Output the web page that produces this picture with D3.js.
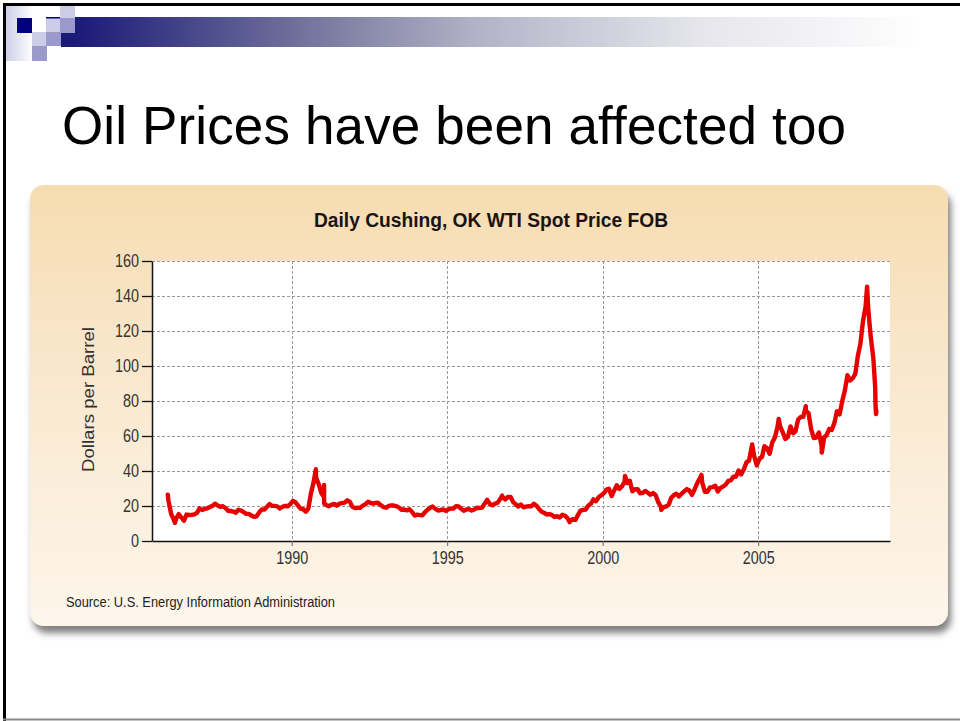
<!DOCTYPE html>
<html>
<head>
<meta charset="utf-8">
<script src="https://cdn.jsdelivr.net/npm/d3@7"></script>
<style>
  body { margin: 0; background: #fff; }
  svg { display: block; }
</style>
</head>
<body>
<svg id="slide"></svg>
<script>
// Slide size
const W = 960, H = 721;

const firstMonth = [1986, 0];
const monthlyPrices = [
  22.93, 15.46, 12.61, 12.84, 15.38, 13.43, 11.59, 15.10, 14.87, 14.90, 15.22, 16.11,
  18.65, 17.75, 18.30, 18.68, 19.44, 20.07, 21.34, 20.31, 19.53, 19.86, 18.85, 17.28,
  17.13, 16.80, 16.20, 17.86, 17.42, 16.53, 15.50, 15.52, 14.54, 13.77, 14.14, 16.38,
  18.02, 17.94, 19.48, 21.07, 20.12, 20.05, 19.78, 18.58, 19.59, 20.10, 19.86, 21.10,
  22.86, 22.11, 20.39, 18.43, 18.20, 16.70, 18.45, 27.31, 33.51, 36.04, 32.33, 27.28,
  25.23, 20.48, 19.90, 20.83, 21.23, 20.19, 21.40, 21.69, 21.89, 23.23, 22.46, 19.50,
  18.79, 19.01, 18.92, 20.23, 20.98, 22.39, 21.78, 21.34, 21.88, 21.69, 20.34, 19.41,
  19.03, 20.09, 20.32, 20.25, 19.95, 19.09, 17.89, 18.01, 17.50, 18.15, 16.61, 14.52,
  15.03, 14.78, 14.68, 16.42, 17.89, 19.06, 19.66, 18.38, 17.45, 17.72, 18.07, 17.16,
  18.04, 18.57, 18.54, 19.90, 19.74, 18.45, 17.33, 18.02, 18.23, 17.43, 17.99, 19.03,
  18.86, 19.09, 21.33, 23.50, 21.17, 20.42, 21.30, 21.90, 23.97, 24.88, 23.71, 25.23,
  25.13, 22.18, 20.97, 19.70, 20.82, 19.26, 19.66, 19.95, 19.80, 21.33, 20.19, 18.33,
  16.72, 16.06, 15.12, 15.35, 14.91, 13.72, 14.17, 13.47, 15.03, 14.46, 13.00, 11.35,
  12.52, 12.01, 14.68, 17.31, 17.72, 17.92, 20.10, 21.28, 23.80, 22.69, 25.00, 26.10,
  27.26, 29.37, 29.84, 25.72, 28.79, 31.82, 29.70, 31.26, 33.88, 33.11, 34.42, 28.44,
  29.59, 29.61, 27.25, 27.49, 28.63, 27.60, 26.43, 27.37, 26.20, 22.17, 19.64, 19.39,
  19.72, 20.72, 24.53, 26.18, 27.04, 25.52, 26.97, 28.39, 29.66, 28.84, 26.35, 29.46,
  32.95, 35.83, 33.51, 28.17, 28.11, 30.66, 30.76, 31.57, 28.31, 30.34, 31.11, 32.13,
  34.31, 34.69, 36.74, 36.75, 40.28, 38.03, 40.78, 44.90, 45.94, 53.28, 48.47, 43.15,
  46.84, 48.15, 54.19, 52.98, 49.83, 56.35, 59.00, 64.99, 65.59, 62.26, 58.32, 59.41,
  65.49, 61.63, 62.69, 69.44, 70.84, 70.95, 74.41, 73.04, 63.80, 58.89, 59.08, 61.96,
  54.51, 59.28, 60.44, 63.98, 63.46, 67.49, 74.12, 72.36, 79.92, 85.80, 94.77, 91.69,
  92.97, 95.39, 105.45, 112.58, 125.40, 133.88, 133.37, 116.67, 104.11
];

// Daily extremes visible in the chart (spikes and the tail end)
const spikeDates = [
  "1986-01-06", "1986-03-31", "1990-10-11", "1991-01-16", "1991-01-17",
  "1996-10-08", "1998-12-10", "2000-09-20", "2001-11-20", "2003-03-07",
  "2004-10-22", "2005-08-30", "2006-07-14", "2007-01-18", "2008-07-03",
  "2008-10-06", "2008-10-10", "2008-10-16", "2008-10-20"
];
const spikeValues = [
  26.5, 10.4, 41.0, 32.0, 21.4,
  25.9, 10.8, 37.2, 17.8, 37.8,
  55.2, 69.8, 77.0, 50.5, 145.3,
  87.8, 77.7, 72.5, 74.3
];

// Axis ticks
const yTicks = [0, 20, 40, 60, 80, 100, 120, 140, 160];
const xTickYears = [1990, 1995, 2000, 2005];

// Text
const slideTitle = "Oil Prices have been affected too";
const chartTitle = "Daily Cushing, OK WTI Spot Price FOB";
const yLabel = "Dollars per Barrel";
const sourceText = "Source: U.S. Energy Information Administration";

// Build the series
const parseDay = d3.timeParse("%Y-%m-%d");
let series = monthlyPrices.map((v, i) => ({
  date: new Date(firstMonth[0], firstMonth[1] + i, 15),
  value: v
}));
spikeDates.forEach((s, i) => series.push({ date: parseDay(s), value: spikeValues[i] }));
series.sort((a, b) => a.date - b.date);

const svg = d3.select("#slide")
  .attr("width", W)
  .attr("height", H);

const defs = svg.append("defs");

// Header bar gradient
const barGrad = defs.append("linearGradient").attr("id", "barGrad");
[["0%", "#1a1a78"], ["28%", "#7a7aa0"], ["46%", "#b4b4c9"], ["71%", "#e6e6ec"], ["96%", "#ffffff"]]
  .forEach(s => barGrad.append("stop").attr("offset", s[0]).attr("stop-color", s[1]));

const lavGrad = defs.append("linearGradient").attr("id", "lavGrad");
lavGrad.append("stop").attr("offset", "0%").attr("stop-color", "#ccccE6");
lavGrad.append("stop").attr("offset", "100%").attr("stop-color", "#ffffff");

// Panel gradient
const panelGrad = defs.append("linearGradient").attr("id", "panelGrad")
  .attr("x1", 0).attr("y1", 0).attr("x2", 0).attr("y2", 1);
[["0%", "#f6dcb0"], ["40%", "#f9e7cc"], ["100%", "#fdf6eb"]]
  .forEach(s => panelGrad.append("stop").attr("offset", s[0]).attr("stop-color", s[1]));

const shadow = defs.append("filter").attr("id", "shadow")
  .attr("x", "-5%").attr("y", "-5%").attr("width", "115%").attr("height", "120%");
shadow.append("feDropShadow")
  .attr("dx", 3).attr("dy", 7).attr("stdDeviation", 3.5)
  .attr("flood-color", "#555").attr("flood-opacity", 0.75);

// Slide decoration (top left squares and header bar)
svg.append("rect").attr("x", 5).attr("y", 5).attr("width", 28).attr("height", 56).attr("fill", "url(#lavGrad)");
svg.append("rect").attr("x", 75).attr("y", 17).attr("width", W - 75).attr("height", 30).attr("fill", "url(#barGrad)");
const squares = [
  [17, 18, 15, 15, "#000080"],
  [46, 18, 14, 15, "#ccccE6"],
  [60, 18, 15, 15, "#9999cc"],
  [60, 5, 15, 13, "#ccccE6"],
  [46, 17, 14, 1.5, "#000080"],
  [32, 32, 14, 14, "#ccccE6"],
  [46, 32, 15, 14, "#9999cc"],
  [61, 33, 14, 14, "#1a1a78"],
  [32, 46, 15, 15, "#9999cc"]
];
svg.selectAll("rect.sq").data(squares).enter().append("rect")
  .attr("class", "sq")
  .attr("x", d => d[0]).attr("y", d => d[1])
  .attr("width", d => d[2]).attr("height", d => d[3])
  .attr("fill", d => d[4]);

// Slide border
svg.append("line").attr("x1", 3).attr("x2", W).attr("y1", 4.5).attr("y2", 4.5)
  .attr("stroke", "#000").attr("stroke-width", 3);
svg.append("line").attr("x1", 4.5).attr("x2", 4.5).attr("y1", 3).attr("y2", H)
  .attr("stroke", "#000").attr("stroke-width", 3);
svg.append("line").attr("x1", 3).attr("x2", W).attr("y1", 719.5).attr("y2", 719.5)
  .attr("stroke", "#888").attr("stroke-width", 2);

// Slide title
svg.append("text")
  .attr("x", 62).attr("y", 144)
  .attr("font-family", "'Liberation Sans', Arial, sans-serif")
  .attr("font-size", 53)
  .attr("textLength", 784)
  .attr("fill", "#000")
  .text(slideTitle);

// Chart panel
svg.append("rect")
  .attr("x", 30).attr("y", 185).attr("width", 918).attr("height", 441).attr("rx", 14)
  .attr("fill", "url(#panelGrad)")
  .attr("filter", "url(#shadow)");

// Scales
const x = d3.scaleTime()
  .domain([new Date(1985, 6, 5), new Date(2009, 2, 29)])
  .range([152, 890]);
const y = d3.scaleLinear()
  .domain([0, 160])
  .range([541, 261]);

// Plot background
svg.append("rect")
  .attr("x", 152).attr("y", 261).attr("width", 890 - 152).attr("height", 541 - 261)
  .attr("fill", "#fff");

// Grid
svg.append("g").selectAll("line").data(yTicks.filter(v => v > 0)).enter().append("line")
  .attr("x1", 152).attr("x2", 890)
  .attr("y1", d => y(d) + 0.5).attr("y2", d => y(d) + 0.5)
  .attr("stroke", "#999").attr("stroke-dasharray", "3,2");
svg.append("g").selectAll("line").data(xTickYears).enter().append("line")
  .attr("x1", d => Math.round(x(new Date(d, 0, 1))) + 0.5)
  .attr("x2", d => Math.round(x(new Date(d, 0, 1))) + 0.5)
  .attr("y1", 261).attr("y2", 541)
  .attr("stroke", "#999").attr("stroke-dasharray", "3,2");

// Price line
const line = d3.line()
  .x(d => x(d.date))
  .y(d => y(d.value));
svg.append("path")
  .datum(series)
  .attr("d", line)
  .attr("fill", "none")
  .attr("stroke", "#e60000")
  .attr("stroke-width", 4.4)
  .attr("stroke-linejoin", "round")
  .attr("stroke-linecap", "round");

const axisFont = "'Liberation Sans', Arial, sans-serif";
const sx = 0.8;

// Y axis
const yAxis = svg.append("g")
  .attr("transform", "translate(152,0)")
  .call(d3.axisLeft(y).tickValues(yTicks).tickSize(10).tickSizeOuter(0).tickPadding(3));
yAxis.select(".domain").attr("stroke", "#111").attr("stroke-width", 1.5);
yAxis.selectAll(".tick line").attr("stroke", "#111").attr("stroke-width", 1.3);
yAxis.selectAll(".tick text")
  .attr("x", -13 / sx)
  .attr("transform", `scale(${sx},1)`)
  .attr("font-family", axisFont).attr("font-size", 18).attr("fill", "#333");

// X axis
const xAxis = svg.append("g")
  .attr("transform", "translate(0,541)")
  .call(d3.axisBottom(x)
    .tickValues(xTickYears.map(yr => new Date(yr, 0, 1)))
    .tickFormat(d3.timeFormat("%Y"))
    .tickSize(5).tickSizeOuter(0).tickPadding(5));
xAxis.select(".domain").attr("stroke", "#111").attr("stroke-width", 1.5);
xAxis.selectAll(".tick line").attr("stroke", "#666");
xAxis.selectAll(".tick text")
  .attr("transform", `scale(${sx},1)`)
  .attr("font-family", axisFont).attr("font-size", 18).attr("fill", "#333");

// Chart title
svg.append("text")
  .attr("x", 314).attr("y", 227)
  .attr("font-family", axisFont).attr("font-weight", "bold")
  .attr("font-size", 19.5)
  .attr("textLength", 354).attr("lengthAdjust", "spacingAndGlyphs")
  .attr("fill", "#1a1414")
  .text(chartTitle);

// Y label
svg.append("text")
  .attr("transform", "translate(94,472) rotate(-90)")
  .attr("font-family", axisFont)
  .attr("font-size", 17)
  .attr("textLength", 145).attr("lengthAdjust", "spacingAndGlyphs")
  .attr("fill", "#333")
  .text(yLabel);

// Source
svg.append("text")
  .attr("x", 66).attr("y", 606.5)
  .attr("font-family", axisFont)
  .attr("font-size", 14)
  .attr("textLength", 269).attr("lengthAdjust", "spacingAndGlyphs")
  .attr("fill", "#222")
  .text(sourceText);
</script>
</body>
</html>
